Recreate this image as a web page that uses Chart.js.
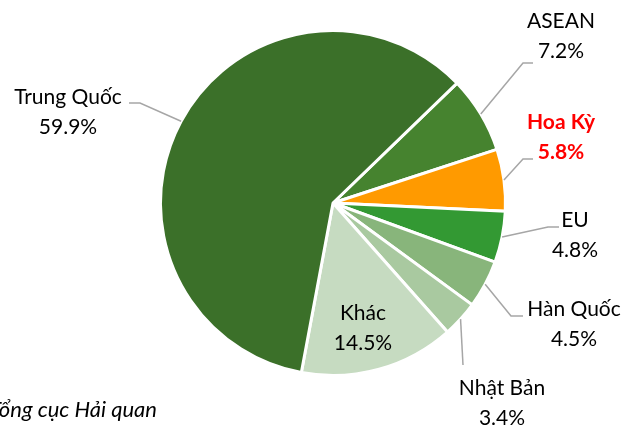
<!DOCTYPE html>
<html><head><meta charset="utf-8">
<script src="https://cdn.jsdelivr.net/npm/chart.js@4"></script>
<style>html,body{margin:0;padding:0;background:#fff;overflow:hidden}#wrap{width:628px;height:425px;position:relative}</style>
</head><body><div id="wrap"><canvas id="c" width="628" height="425"></canvas></div>
<script>
const categories = ['ASEAN', 'Hoa Kỳ', 'EU', 'Hàn Quốc', 'Nhật Bản', 'Khác', 'Trung Quốc'];
const shares = [7.2, 5.8, 4.8, 4.5, 3.4, 14.5, 59.9];
const valueLabels = ['7.2%', '5.8%', '4.8%', '4.5%', '3.4%', '14.5%', '59.9%'];
const sliceColors = ['#46832f', '#ff9a00', '#339933', '#88b57b', '#a9c9a0', '#c6dbc1', '#3b7029'];
const sourceNote = 'Nguồn: Tổng cục Hải quan';

// label layout (text centre x, first baseline y, leader-line elbow points)
const labelLayout = [
  {x: 561, y: 28, line: [[523, 63], [533, 63]]},
  {x: 561, y: 129, line: [[523, 159], [533, 159]], color: '#ff0000', bold: true},
  {x: 575, y: 227, line: [[548, 227], [559, 227]]},
  {x: 574, y: 316, line: [[511, 316], [523, 316]]},
  {x: 502, y: 395, line: [[463, 365]]},
  {x: 363, y: 320, line: null},
  {x: 68, y: 104, line: [[140, 103], [129, 103]]}
];

const FONT = 'Lato, "Open Sans", sans-serif';

const labelPlugin = {
  id: 'labels',
  beforeDraw(chart) {
    const ctx = chart.ctx;
    ctx.save();
    ctx.fillStyle = '#ffffff';
    ctx.fillRect(0, 0, chart.width, chart.height);
    ctx.restore();
  },
  afterDraw(chart) {
    const ctx = chart.ctx;
    const meta = chart.getDatasetMeta(0);
    ctx.save();
    meta.data.forEach((arc, i) => {
      const p = arc.getProps(['x', 'y', 'startAngle', 'endAngle', 'outerRadius'], true);
      const mid = (p.startAngle + p.endAngle) / 2;
      const L = labelLayout[i];
      if (L.line) {
        const r = p.outerRadius;
        ctx.beginPath();
        ctx.moveTo(p.x + Math.cos(mid) * r, p.y + Math.sin(mid) * r);
        L.line.forEach(pt => ctx.lineTo(pt[0], pt[1]));
        ctx.strokeStyle = '#a6a6a6';
        ctx.lineWidth = 1.5;
        ctx.stroke();
      }
      ctx.fillStyle = L.color || '#000000';
      ctx.font = (L.bold ? 'bold ' : '') + '21px ' + FONT;
      ctx.textAlign = 'center';
      ctx.textBaseline = 'alphabetic';
      ctx.fillText(categories[i], L.x, L.y);
      ctx.fillText(valueLabels[i], L.x, L.y + 29.5);
    });
    ctx.fillStyle = '#000000';
    ctx.font = 'italic 22px ' + FONT;
    ctx.textAlign = 'right';
    ctx.fillText(sourceNote, 157, 417);
    ctx.restore();
  }
};

new Chart(document.getElementById('c'), {
  type: 'pie',
  data: {
    labels: categories,
    datasets: [{
      data: shares,
      backgroundColor: sliceColors,
      borderColor: '#ffffff',
      borderWidth: 3,
      hoverOffset: 0,
      offset: 0
    }]
  },
  options: {
    responsive: false,
    animation: false,
    rotation: 46,
    layout: {padding: {left: 159, right: 121, top: 29, bottom: 48}},
    events: [],
    plugins: {legend: {display: false}, tooltip: {enabled: false}}
  },
  plugins: [labelPlugin]
});
</script>
</body></html>
